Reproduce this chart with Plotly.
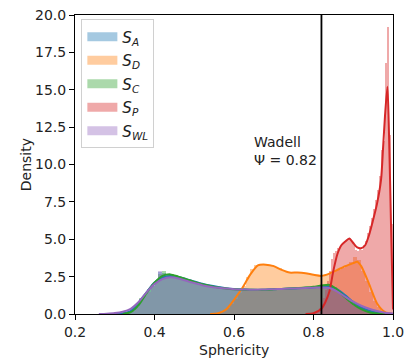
import plotly.graph_objects as go

# ---------------- data ----------------
series_names = ["S_A", "S_D", "S_C", "S_P", "S_WL"]
legend_labels = ["<i>S</i><sub><i>A</i></sub>", "<i>S</i><sub><i>D</i></sub>",
                 "<i>S</i><sub><i>C</i></sub>", "<i>S</i><sub><i>P</i></sub>",
                 "<i>S</i><sub><i>WL</i></sub>"]
colors = ["#1f77b4", "#ff7f0e", "#2ca02c", "#d62728", "#9467bd"]
fill_colors = ["rgba(31,119,180,0.4)", "rgba(255,127,14,0.4)", "rgba(44,160,44,0.4)",
               "rgba(214,39,40,0.4)", "rgba(148,103,189,0.4)"]

# histogram bins: start, width, density values
a_start, a_width = 0.33, 0.01
a_hist = [0.1, 0.3, 0.6, 1.0, 1.3, 1.7, 2.0, 2.2, 2.8, 2.75, 2.6, 2.55, 2.5, 2.4, 2.35, 2.3,
          2.2, 2.1, 2.05, 2.0, 1.9, 1.85, 1.8, 1.78, 1.75, 1.72, 1.7, 1.68, 1.65, 1.65, 1.63,
          1.62, 1.62, 1.6, 1.63, 1.65, 1.66, 1.67, 1.68, 1.7, 1.7, 1.72, 1.72, 1.74, 1.75,
          1.76, 1.78, 1.8, 1.82, 1.85, 1.88, 1.85, 1.75, 1.55, 1.3, 1.1, 0.9, 0.7, 0.55, 0.4,
          0.3, 0.2, 0.12, 0.08, 0.05, 0.02, 0.01]

d_start, d_width = 0.55, 0.01
d_hist = [0.03, 0.1, 0.2, 0.4, 0.7, 1.0, 1.4, 1.9, 2.5, 3.0, 3.3, 3.35, 3.3, 3.3, 3.25, 3.15,
          3.05, 2.9, 2.8, 2.75, 2.8, 2.8, 2.75, 2.7, 2.65, 2.6, 2.55, 2.55, 2.6, 2.7, 2.85,
          2.95, 3.1, 3.2, 3.5, 3.8, 3.6, 2.9, 2.2, 1.5, 0.9, 0.45, 0.15, 0.03]

c_start, c_width = 0.33, 0.01
c_hist = [0.05, 0.2, 0.5, 1.1, 1.3, 1.6, 1.9, 2.2, 2.7, 2.85, 2.7, 2.65, 2.55, 2.45, 2.35,
          2.25, 2.15, 2.1, 2.0, 1.95, 1.9, 1.85, 1.8, 1.75, 1.72, 1.7, 1.68, 1.66, 1.64, 1.63,
          1.62, 1.62, 1.6, 1.62, 1.63, 1.64, 1.66, 1.67, 1.69, 1.7, 1.71, 1.72, 1.74, 1.75,
          1.77, 1.78, 1.8, 1.83, 1.87, 1.92, 1.97, 1.95, 1.8, 1.55, 1.25, 1.0, 0.75, 0.55,
          0.38, 0.25, 0.15, 0.08, 0.04, 0.02]

p_start, p_width = 0.80, 0.005
p_hist = [0.0, 0.1, 0.2, 0.4, 0.7, 1.1, 1.6, 2.2, 2.9, 3.7, 4.1, 4.2, 4.4, 4.5, 4.6, 4.8,
          4.9, 5.0, 5.1, 4.9, 4.6, 4.3, 4.2, 4.4, 4.3, 4.6, 4.9, 5.4, 5.9, 6.4, 7.0, 7.6,
          8.3, 9.2, 11.0, 11.6, 16.8, 19.2, 12.0, 6.0]

wl_start, wl_width = 0.27, 0.01
wl_hist = [0.02, 0.03, 0.05, 0.07, 0.1, 0.15, 0.25, 0.4, 0.6, 0.9, 1.2, 1.5, 1.85, 2.1, 2.9,
           2.7, 2.55, 2.45, 2.4, 2.35, 2.25, 2.2, 2.1, 2.0, 1.95, 1.9, 1.85, 1.8, 1.76, 1.73,
           1.7, 1.68, 1.66, 1.65, 1.64, 1.63, 1.62, 1.62, 1.62, 1.63, 1.64, 1.65, 1.66, 1.67,
           1.68, 1.69, 1.7, 1.71, 1.72, 1.73, 1.74, 1.75, 1.76, 1.77, 1.78, 1.8, 1.8, 1.75,
           1.62, 1.45, 1.25, 1.05, 0.88, 0.72, 0.58, 0.47, 0.37, 0.28, 0.21, 0.15, 0.1, 0.06,
           0.03]

# KDE curves
a_kde_x = [0.30, 0.32, 0.34, 0.36, 0.38, 0.40, 0.42, 0.44, 0.46, 0.48, 0.50, 0.52, 0.54, 0.56,
           0.58, 0.60, 0.62, 0.64, 0.66, 0.68, 0.70, 0.72, 0.74, 0.76, 0.78, 0.80, 0.82, 0.84,
           0.86, 0.88, 0.90, 0.92, 0.94, 0.96, 0.98, 1.00]
a_kde_y = [0.0, 0.05, 0.2, 0.75, 1.45, 2.1, 2.45, 2.55, 2.47, 2.33, 2.17, 2.02, 1.9, 1.8, 1.73,
           1.68, 1.65, 1.63, 1.62, 1.63, 1.66, 1.68, 1.7, 1.72, 1.75, 1.78, 1.84, 1.84, 1.65,
           1.25, 0.8, 0.45, 0.22, 0.09, 0.03, 0.0]

d_kde_x = [0.54, 0.56, 0.58, 0.60, 0.62, 0.64, 0.66, 0.68, 0.70, 0.72, 0.74, 0.76, 0.78, 0.80,
           0.82, 0.84, 0.86, 0.88, 0.90, 0.91, 0.92, 0.94, 0.96, 0.98, 1.00]
d_kde_y = [0.0, 0.05, 0.3, 0.95, 1.7, 2.6, 3.25, 3.3, 3.2, 2.95, 2.77, 2.78, 2.73, 2.62, 2.55,
           2.7, 2.95, 3.2, 3.4, 3.5, 3.2, 2.0, 0.7, 0.12, 0.0]

c_kde_x = [0.32, 0.34, 0.36, 0.38, 0.40, 0.42, 0.44, 0.46, 0.48, 0.50, 0.52, 0.54, 0.56, 0.58,
           0.60, 0.62, 0.64, 0.66, 0.68, 0.70, 0.72, 0.74, 0.76, 0.78, 0.80, 0.82, 0.84, 0.86,
           0.88, 0.90, 0.92, 0.94, 0.96, 0.98]
c_kde_y = [0.0, 0.12, 0.6, 1.4, 2.1, 2.55, 2.65, 2.5, 2.33, 2.15, 2.0, 1.88, 1.78, 1.71, 1.66,
           1.63, 1.62, 1.61, 1.62, 1.65, 1.68, 1.71, 1.74, 1.77, 1.82, 1.9, 1.95, 1.62, 1.1,
           0.65, 0.32, 0.12, 0.03, 0.0]

p_kde_x = [0.78, 0.80, 0.82, 0.83, 0.84, 0.85, 0.86, 0.87, 0.88, 0.89, 0.90, 0.91, 0.92, 0.93,
           0.94, 0.95, 0.96, 0.97, 0.975, 0.98, 0.986, 0.99, 0.995, 1.00]
p_kde_y = [0.0, 0.05, 0.35, 0.8, 1.5, 2.9, 4.0, 4.6, 4.85, 5.05, 4.75, 4.45, 4.4, 4.6, 5.3,
           6.3, 7.4, 9.0, 11.1, 13.3, 15.2, 12.0, 6.0, 0.3]

wl_kde_x = [0.26, 0.28, 0.30, 0.32, 0.34, 0.36, 0.38, 0.40, 0.42, 0.44, 0.46, 0.48, 0.50,
            0.52, 0.54, 0.56, 0.58, 0.60, 0.62, 0.64, 0.66, 0.68, 0.70, 0.72, 0.74, 0.76,
            0.78, 0.80, 0.82, 0.84, 0.86, 0.88, 0.90, 0.92, 0.94, 0.96, 0.98, 1.00]
wl_kde_y = [0.0, 0.02, 0.06, 0.15, 0.35, 0.8, 1.45, 2.0, 2.33, 2.45, 2.38, 2.22, 2.07, 1.93,
            1.83, 1.75, 1.7, 1.66, 1.64, 1.63, 1.63, 1.64, 1.66, 1.68, 1.7, 1.72, 1.74, 1.76,
            1.78, 1.74, 1.5, 1.15, 0.82, 0.55, 0.35, 0.2, 0.09, 0.03]

wadell_value = 0.82
wadell_label = "Wadell<br>Ψ = 0.82"
x_title = "Sphericity"
y_title = "Density"
x_ticks = [0.2, 0.4, 0.6, 0.8, 1.0]
y_ticks = [0.0, 2.5, 5.0, 7.5, 10.0, 12.5, 15.0, 17.5, 20.0]

hists = [(a_start, a_width, a_hist), (d_start, d_width, d_hist), (c_start, c_width, c_hist),
         (p_start, p_width, p_hist), (wl_start, wl_width, wl_hist)]
kdes = [(a_kde_x, a_kde_y), (d_kde_x, d_kde_y), (c_kde_x, c_kde_y),
        (p_kde_x, p_kde_y), (wl_kde_x, wl_kde_y)]

# ---------------- figure ----------------
fig = go.Figure()

for i, (start, width, vals) in enumerate(hists):
    centers = [start + width * (k + 0.5) for k in range(len(vals))]
    fig.add_trace(go.Bar(x=centers, y=vals, width=width, marker=dict(color=fill_colors[i], line=dict(width=0)),
                         showlegend=False, name=series_names[i]))

for i, (kx, ky) in enumerate(kdes):
    fig.add_trace(go.Scatter(x=kx, y=ky, mode="lines", line=dict(color=colors[i], width=2, shape="spline", smoothing=0.7),
                             showlegend=False, name=series_names[i]))

# legend proxies
for i in range(5):
    fig.add_trace(go.Scatter(x=[None], y=[None], mode="lines", line=dict(color=fill_colors[i], width=9),
                             name=legend_labels[i], showlegend=True, legendgroup=f"g{i}"))

fig.add_shape(type="line", x0=wadell_value, x1=wadell_value, y0=0, y1=1, xref="x", yref="paper",
              line=dict(color="black", width=1.8))
fig.add_annotation(x=0.646, y=9.6, xref="x", yref="y", text=wadell_label, showarrow=False,
                   xanchor="left", yanchor="bottom", align="left",
                   font=dict(family="DejaVu Sans", size=14, color="#222"))

# axis titles placed as annotations for exact positioning (plot height = 360-15-46 = 299 px)
fig.add_annotation(x=0.5, y=-36 / 299, xref="paper", yref="paper", text=x_title, showarrow=False,
                   xanchor="center", yanchor="middle", font=dict(size=14, color="#222"))
fig.add_annotation(x=-0.155, y=0.5, xref="paper", yref="paper", text=y_title, showarrow=False,
                   textangle=-90, xanchor="center", yanchor="middle", font=dict(size=14, color="#222"))

fig.update_layout(
    width=404, height=360,
    margin=dict(l=75, r=11, t=15, b=46),
    barmode="overlay", bargap=0,
    plot_bgcolor="white", paper_bgcolor="white",
    font=dict(family="DejaVu Sans", size=13, color="#222"),
    legend=dict(x=0.02, y=0.985, xanchor="left", yanchor="top", bgcolor="rgba(255,255,255,0.85)",
                bordercolor="#d0d0d0", borderwidth=1, font=dict(size=15), itemwidth=30,
                tracegroupgap=1),
    xaxis=dict(range=[0.2, 1.0], tickvals=x_ticks, ticktext=[f"{v:.1f}" for v in x_ticks],
               showgrid=False, zeroline=False, showline=True, linecolor="black", linewidth=1,
               mirror=True, ticks="outside", ticklen=5, tickcolor="black", automargin=False,
               ticklabeloverflow="allow", tickfont=dict(size=14)),
    yaxis=dict(range=[0, 20], tickvals=y_ticks, ticktext=[f"{v:.1f}" for v in y_ticks],
               showgrid=False, zeroline=False, showline=True, linecolor="black", linewidth=1,
               mirror=True, ticks="outside", ticklen=5, tickcolor="black", automargin=False,
               ticklabeloverflow="allow", tickfont=dict(size=14)),
)

fig.write_html("out.html")
